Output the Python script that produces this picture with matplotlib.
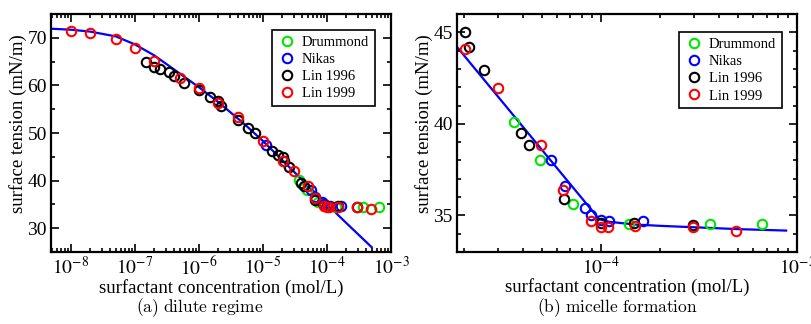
import numpy as np
import matplotlib
matplotlib.use('Agg')
import matplotlib.pyplot as plt
from matplotlib.ticker import LogLocator, MultipleLocator, FuncFormatter, NullFormatter

plt.rcParams['font.family'] = ['Liberation Serif', 'DejaVu Serif']
plt.rcParams['mathtext.fontset'] = 'stix'

# ---- data (concentration in mol/L, tension in mN/m)
drummond_c = [3.6e-5, 4.9e-5, 7.2e-5, 1.39e-4, 3.6e-4, 6.6e-4]
drummond_g = [40.1, 38.05, 35.6, 34.53, 34.54, 34.54]

nikas_c = [1.1e-5, 5.55e-5, 6.6e-5, 8.3e-5, 8.9e-5, 1.0e-4, 1.1e-4, 1.65e-4]
nikas_g = [47.4, 38.0, 36.6, 35.4, 35.03, 34.76, 34.72, 34.7]

lin96_c = [1.47e-7, 2.0e-7, 2.45e-7, 3.44e-7, 4.0e-7, 5.9e-7, 1.0e-6, 1.48e-6,
           2.0e-6, 2.2e-6, 4.0e-6, 5.9e-6, 7.4e-6, 1.4e-5, 1.7e-5, 2.03e-5,
           2.14e-5, 2.53e-5, 3.93e-5, 4.33e-5, 6.49e-5, 1.0e-4, 1.48e-4, 2.94e-4]
lin96_g = [64.9, 63.8, 63.4, 62.8, 61.9, 60.5, 59.1, 57.6,
           56.7, 55.6, 52.8, 51.1, 50.0, 46.3, 45.4, 45.03,
           44.2, 42.95, 39.5, 38.84, 35.87, 34.6, 34.58, 34.47]

lin99_c = [1.0e-8, 2.0e-8, 5.0e-8, 1.0e-7, 2.0e-7, 5.0e-7, 1.0e-6, 2.0e-6,
           4.0e-6, 1.0e-5, 2.03e-5, 3.0e-5, 4.97e-5, 6.45e-5, 8.9e-5, 1.0e-4,
           1.09e-4, 1.49e-4, 2.94e-4, 4.89e-4]
lin99_g = [71.5, 71.0, 69.7, 67.8, 65.2, 61.6, 59.4, 56.2,
           53.3, 48.3, 44.1, 41.96, 38.84, 36.39, 34.71, 34.38,
           34.38, 34.43, 34.36, 34.13]

# model curves
dilute_c = [5e-9, 1e-8, 2e-8, 5e-8, 1e-7, 2e-7, 5e-7, 1e-6, 2e-6, 5e-6,
            1e-5, 2e-5, 5e-5, 1e-4, 2e-4, 5e-4]
dilute_g = [71.9, 71.7, 71.3, 70.3, 68.6, 66.3, 62.5, 59.6, 56.5, 52.0,
            48.3, 44.3, 39.0, 35.0, 31.1, 26.0]

micelle_c = [1.85e-5, 9.8e-5, 1.1e-4, 1.5e-4, 2e-4, 3e-4, 5e-4, 8.8e-4]
micelle_g = [44.2, 34.8, 34.65, 34.5, 34.43, 34.35, 34.25, 34.17]

series = [('Drummond', drummond_c, drummond_g, '#00e600'),
          ('Nikas', nikas_c, nikas_g, '#0000ff'),
          ('Lin 1996', lin96_c, lin96_g, '#000000'),
          ('Lin 1999', lin99_c, lin99_g, '#ff0000')]


def pow10(v, pos):
    return r'$10^{%d}$' % int(round(np.log10(v)))


def style_axes(ax, major_y, minor_y):
    ax.set_xscale('log')
    ax.xaxis.set_major_locator(LogLocator(base=10, numticks=20))
    ax.xaxis.set_minor_locator(LogLocator(base=10, subs=np.arange(2, 10), numticks=20))
    ax.xaxis.set_major_formatter(FuncFormatter(pow10))
    ax.xaxis.set_minor_formatter(NullFormatter())
    ax.yaxis.set_major_locator(MultipleLocator(major_y))
    ax.yaxis.set_minor_locator(MultipleLocator(minor_y))
    ax.tick_params(which='both', direction='in', top=True, right=True, width=1.2)
    ax.tick_params(which='major', length=6, labelsize=14, pad=3)
    ax.tick_params(which='minor', length=3)
    for s in ax.spines.values():
        s.set_linewidth(1.6)
    ax.set_xlabel('surfactant concentration (mol/L)', fontsize=13.5, labelpad=0)
    ax.set_ylabel('surface tension (mN/m)', fontsize=13.5)
    ax.yaxis.set_label_coords(-0.072, 0.54)


def draw_points(ax):
    for name, c, g, col in series:
        ax.plot(c, g, 'o', mfc='none', mec=col, ms=6.8, mew=1.5, label=name)


def add_legend(ax, anchor):
    leg = ax.legend(loc='upper right', bbox_to_anchor=anchor, fontsize=10.5,
                    handletextpad=0.45, labelspacing=0.27, borderpad=0.4,
                    borderaxespad=0, handlelength=1.2, fancybox=False,
                    framealpha=1, edgecolor='black')
    leg.get_frame().set_linewidth(1.2)


fig = plt.figure(figsize=(8.11, 3.24), dpi=100)

ax1 = fig.add_axes([51/811, 1-252/324, 340/811, 238/324])
draw_points(ax1)
ax1.plot(dilute_c, dilute_g, color='#0000ff', lw=1.6, zorder=1)
ax1.set_xlim(4.87e-9, 1e-3)
ax1.set_ylim(25, 75)
style_axes(ax1, 10, 5)
add_legend(ax1, (0.953, 0.933))

ax2 = fig.add_axes([457/811, 1-252/324, 340/811, 238/324])
draw_points(ax2)
ax2.plot(micelle_c, micelle_g, color='#0000ff', lw=1.6, zorder=1)
ax2.set_xlim(1.85e-5, 1e-3)
ax2.set_ylim(33, 46)
style_axes(ax2, 5, 1)
add_legend(ax2, (0.956, 0.924))

fig.text(200/811, 1-308/324, r'$\mathrm{(a)\ dilute\ regime}$', math_fontfamily='cm',
         fontsize=12.5, ha='center', va='center')
fig.text(617/811, 1-308/324, r'$\mathrm{(b)\ micelle\ formation}$', math_fontfamily='cm',
         fontsize=12.5, ha='center', va='center')

fig.savefig('out.png', dpi=100)
